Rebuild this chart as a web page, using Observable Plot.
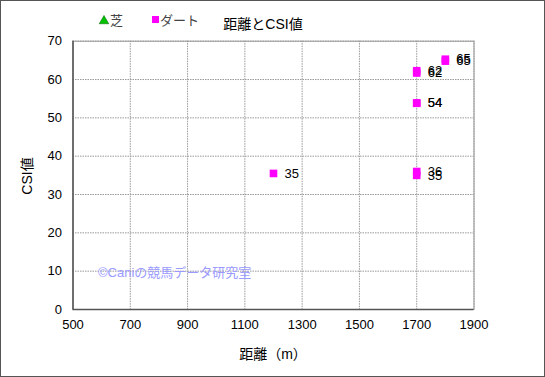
<!DOCTYPE html>
<html><head><meta charset="utf-8">
<script src="https://cdn.jsdelivr.net/npm/d3@7"></script>
<script src="https://cdn.jsdelivr.net/npm/@observablehq/plot@0.6"></script>
<style>
html,body{margin:0;padding:0;background:#fff;}
#chart{width:545px;height:377px;}
svg text{font-family:"Liberation Sans","Noto Sans CJK JP",sans-serif;}
</style></head>
<body><div id="chart"></div>
<script>
const distance = [1200, 1700, 1700, 1800, 1800, 1700, 1700, 1700, 1700];
const csi      = [35.5, 62.3, 61.7, 65.3, 64.8, 53.8, 53.9, 36.0, 35.0];
const labels   = ["35", "62", "62", "65", "65", "54", "54", "36", "35"];
const xTicks = [500, 700, 900, 1100, 1300, 1500, 1700, 1900];
const yTicks = [0, 10, 20, 30, 40, 50, 60, 70];
const title = "距離とCSI値";
const xLabel = "距離（m）";
const yLabel = "CSI値";
const legendItems = ["芝", "ダート"];
const watermark = "©Caniの競馬データ研究室";

const data = distance.map((d, i) => ({x: d, y: csi[i], label: labels[i]}));

const chart = Plot.plot({
  width: 545, height: 377,
  marginLeft: 72.5, marginRight: 71.5, marginTop: 40.7, marginBottom: 68,
  style: {fontSize: "13px", fontFamily: "'Liberation Sans','Noto Sans CJK JP',sans-serif", background: "#fff", color: "#000"},
  x: {domain: [500, 1900], ticks: xTicks, label: null},
  y: {domain: [0, 70], ticks: yTicks, label: null},
  marks: [
    Plot.gridX(xTicks, {stroke: "#999", strokeOpacity: 1, strokeDasharray: "1.5,1"}),
    Plot.gridY(yTicks, {stroke: "#999", strokeOpacity: 1, strokeDasharray: "1.5,1"}),
    Plot.frame({stroke: "#999"}),
    Plot.ruleX([500], {stroke: "#555", strokeWidth: 1.5}),
    Plot.ruleY([0], {stroke: "#555", strokeWidth: 1.5}),
    Plot.axisX(xTicks, {tickSize: 0, tickPadding: 10, fontSize: 13, fill: "#000", tickFormat: d => String(d)}),
    Plot.axisY(yTicks, {tickSize: 0, tickPadding: 11, fontSize: 13, fill: "#000", tickFormat: d => String(d)}),
    Plot.text([watermark], {frameAnchor: "bottom-left", dx: 25, dy: -33, text: d => d, fill: "#9a9aff", fontSize: 13, textAnchor: "start"}),
    Plot.dot(data, {x: "x", y: "y", symbol: "square", r: 4.3, fill: "#ff00ff", stroke: "none"}),
    Plot.text(data, {x: "x", y: "y", text: "label", dx: 11, textAnchor: "start", fontSize: 13, fill: "#000"})
  ]
});

const svg = d3.select(chart);
svg.attr("overflow", "visible");
// outer border
svg.append("rect").attr("x", 0.5).attr("y", 0.5).attr("width", 544).attr("height", 376)
  .attr("fill", "none").attr("stroke", "#555").attr("stroke-width", 1);
// title
svg.append("text").attr("x", 263).attr("y", 29).attr("text-anchor", "middle")
  .attr("font-size", 14).attr("fill", "#000").text(title);
// legend
svg.append("path").attr("d", d3.symbol(d3.symbolTriangle, 40)()).attr("transform", "translate(104,21)").attr("fill", "#00c000").attr("stroke", "#006000").attr("stroke-width", 0.5);
svg.append("text").attr("x", 110).attr("y", 25).attr("text-anchor", "start").attr("font-size", 13).attr("fill", "#444").text(legendItems[0]);
svg.append("rect").attr("x", 152).attr("y", 16).attr("width", 7).attr("height", 7).attr("fill", "#ff00ff");
svg.append("text").attr("x", 160).attr("y", 25).attr("text-anchor", "start").attr("font-size", 13).attr("fill", "#444").text(legendItems[1]);
// axis labels
svg.append("text").attr("x", 273).attr("y", 359).attr("text-anchor", "middle")
  .attr("font-size", 14).attr("fill", "#000").text(xLabel);
svg.append("text").attr("transform", "translate(32,176) rotate(-90)").attr("text-anchor", "middle")
  .attr("font-size", 14).attr("fill", "#000").text(yLabel);

document.getElementById("chart").appendChild(chart);
</script></body></html>
